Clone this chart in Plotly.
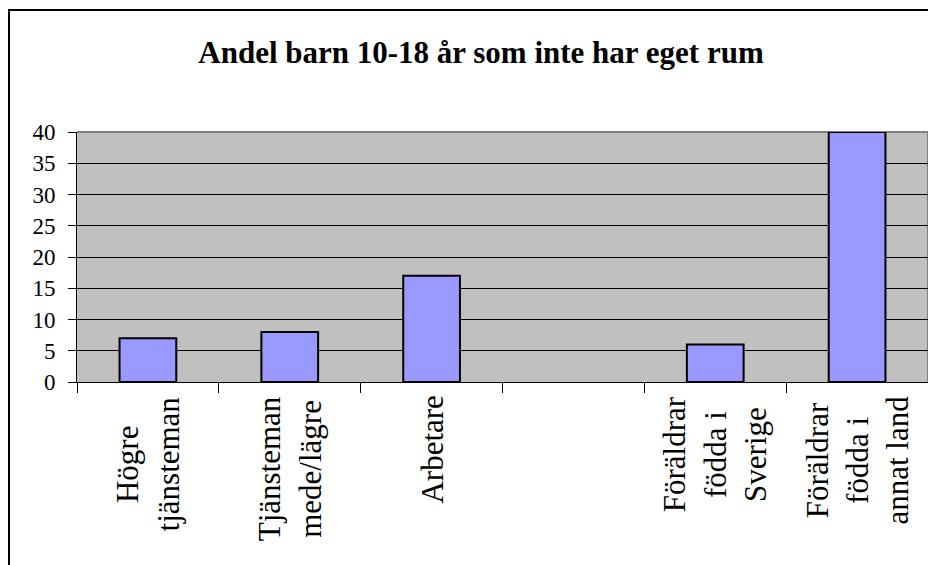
import plotly.graph_objects as go

# data
categories = ['Högre tjänsteman', 'Tjänsteman mede/lägre', 'Arbetare', ' ',
              'Föräldrar födda i Sverige', 'Föräldrar födda i annat land']
label_lines = [['Högre', 'tjänsteman'],
               ['Tjänsteman', 'mede/lägre'],
               ['Arbetare'],
               [],
               ['Föräldrar', 'födda i', 'Sverige'],
               ['Föräldrar', 'födda i', 'annat land']]
values = [7, 8, 17, None, 6, 40]
y_ticks = [0, 5, 10, 15, 20, 25, 30, 35, 40]

SERIF = 'Liberation Serif'
W, H = 936, 565
OFF = 8  # page body margin of the html page
ML, MR, MT = 77 - OFF, 16, 132 - OFF
pw = W - ML - MR
ph = 250
MB = H - MT - ph

fig = go.Figure()

fig.add_trace(go.Bar(
    x=categories, y=values,
    marker=dict(color='#9999FF', line=dict(color='black', width=2)),
    hoverinfo='x+y'
))

# rotated category labels, lines centred like the original
for cat, lines in zip(categories, label_lines):
    if not lines:
        continue
    fig.add_annotation(
        x=cat, y=0, xref='x', yref='paper',
        text='<br>'.join(lines),
        textangle=-90, align='center',
        xanchor='center', yanchor='top',
        yshift=-12, showarrow=False,
        font=dict(family=SERIF, size=31, color='black')
    )

# gray top/right plot border
fig.add_shape(type='line', xref='paper', yref='paper', x0=0, x1=1, y0=1, y1=1,
              line=dict(color='#808080', width=2), layer='below')
fig.add_shape(type='line', xref='paper', yref='paper', x0=1, x1=1, y0=0, y1=1,
              line=dict(color='#808080', width=2), layer='below')

# outer chart frame (left and top edges visible, the rest runs off the page)
fig.add_shape(type='rect', xref='paper', yref='paper',
              x0=(9 - OFF - ML) / pw, x1=(W + 20 - ML) / pw,
              y0=-(MB + 20) / ph, y1=1 + (MT - (10 - OFF)) / ph,
              line=dict(color='black', width=2))

fig.update_layout(
    width=W, height=H,
    margin=dict(l=ML, r=MR, t=MT, b=MB),
    paper_bgcolor='white',
    plot_bgcolor='#C0C0C0',
    showlegend=False,
    bargap=0.6,
    title=dict(
        text='<b>Andel barn 10-18 år som inte har eget rum</b>',
        x=(481 - OFF) / W, xanchor='center',
        y=1 - (52 - OFF) / H, yanchor='middle', yref='container',
        font=dict(family=SERIF, size=31, color='black')
    ),
    xaxis=dict(
        type='category', range=[-0.5, 5.5],
        showticklabels=False, showgrid=False,
        tickson='boundaries', ticks='outside', ticklen=10,
        tickcolor='black', tickwidth=1,
        showline=True, linecolor='black', linewidth=1,
        zeroline=False
    ),
    yaxis=dict(
        range=[0, 40], tickvals=y_ticks,
        ticks='outside', ticklen=8, tickcolor='black', tickwidth=1,
        ticklabelstandoff=8,
        showgrid=True, gridcolor='black', gridwidth=1,
        showline=True, linecolor='black', linewidth=1,
        zeroline=False,
        tickfont=dict(family=SERIF, size=23, color='black')
    )
)

fig.write_html('out.html')
